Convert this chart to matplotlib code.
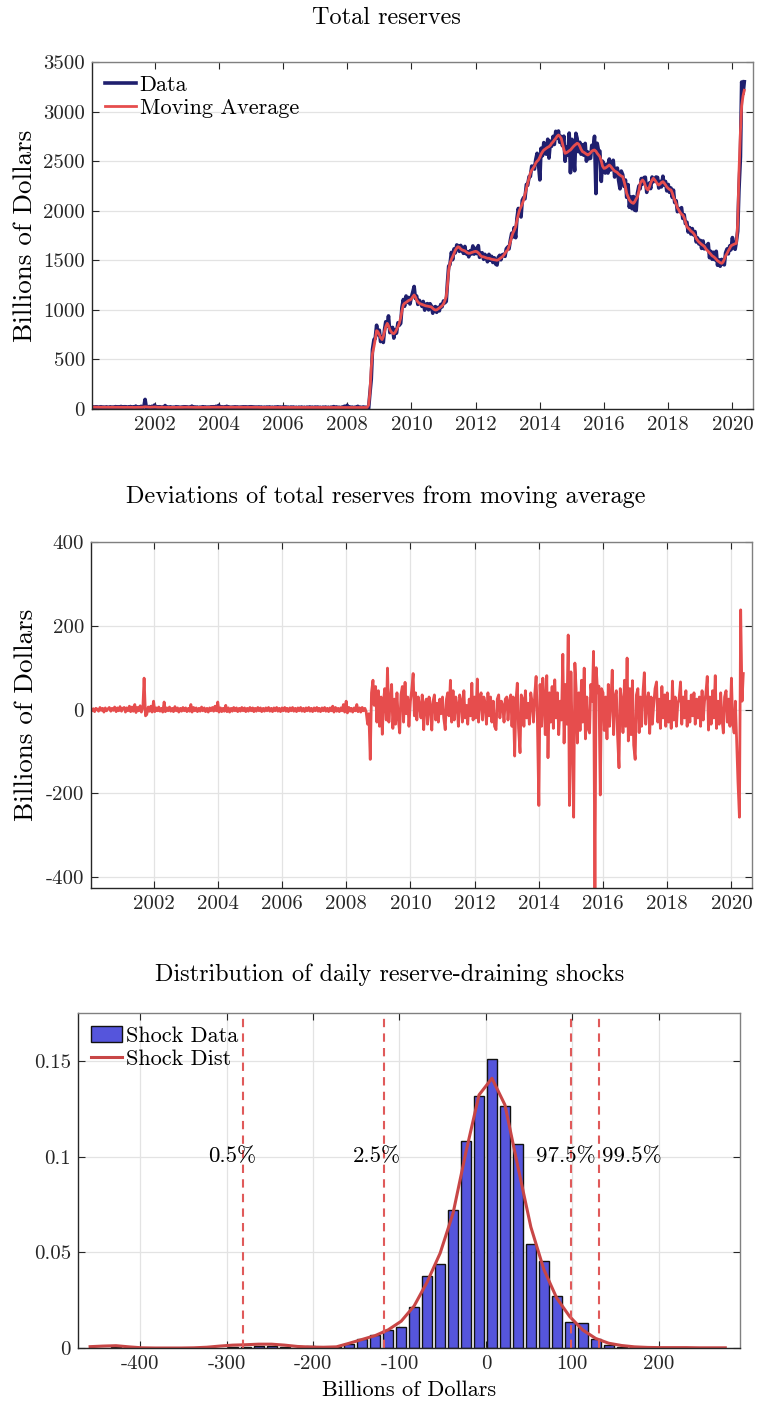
import numpy as np
import pandas as pd
import matplotlib
matplotlib.use('Agg')
import matplotlib.pyplot as plt
import matplotlib.dates as mdates

plt.rcParams['font.family'] = 'serif'
plt.rcParams['font.serif'] = ['cmr10']
plt.rcParams['mathtext.fontset'] = 'cm'
plt.rcParams['axes.unicode_minus'] = False

# ---- time grid: 1st and 15th of each month
dates = pd.date_range('2000-01-01', '2020-05-15', freq='SMS')

# moving average of total reserves (billions)
ma_pre = [20, 20, 19, 19, 19, 19, 18, 18, 18, 18, 17, 17, 18, 18, 17, 17, 17, 17, 18, 18, 18, 18, 19, 19,
          19, 19, 18, 18, 17, 17, 17, 17, 16, 16, 17, 17, 17, 17, 18, 18, 20, 22, 21, 20, 19, 18, 19, 19,
          20, 20, 18, 18, 17, 17, 17, 17, 17, 17, 16, 16, 16, 16, 16, 16, 16, 16, 17, 17, 17, 17, 18, 18,
          18, 18, 17, 17, 17, 17, 16, 16, 16, 16, 16, 16, 17, 17, 17, 17, 17, 17, 18, 18, 18, 18, 19, 19,
          19, 19, 18, 18, 18, 18, 17, 17, 17, 17, 17, 17, 17, 17, 17, 17, 17, 17, 17, 17, 18, 18, 18, 18,
          18, 18, 17, 17, 17, 17, 16, 16, 16, 16, 16, 16, 16, 16, 16, 16, 16, 16, 16, 16, 17, 17, 17, 17,
          17, 17, 16, 16, 16, 16, 16, 16, 15, 15, 15, 15, 15, 15, 15, 15, 15, 15, 15, 15, 16, 16, 16, 16,
          16, 16, 15, 15, 15, 15, 15, 15, 15, 15, 15, 15, 15, 15, 16, 16, 16, 16, 15, 15, 15, 15, 16, 16,
          17, 17, 16, 16, 16, 16, 15, 15, 15, 15, 15, 15, 16, 16]
ma_post = [15, 15, 40, 160, 420, 560, 630, 700, 790, 780,
           750, 720, 700, 730, 780, 830, 864, 840, 800, 780, 763, 760,
           775, 800, 830, 864, 920, 990, 1050, 1066, 1075, 1085, 1095, 1099,
           1110, 1130, 1150, 1130, 1100, 1080, 1066, 1060, 1055, 1050, 1045, 1040,
           1038, 1035, 1032, 1030, 1015, 1005, 998, 1000, 1010, 1020, 1030, 1040,
           1060, 1090, 1133, 1250, 1402, 1470, 1510, 1536, 1570, 1600, 1625, 1637,
           1630, 1615, 1604, 1600, 1595, 1585, 1575, 1570, 1572, 1578, 1582, 1587,
           1590, 1587, 1575, 1560, 1545, 1536, 1535, 1530, 1525, 1520, 1520, 1515,
           1510, 1508, 1505, 1503, 1500, 1505, 1515, 1525, 1536, 1550, 1570, 1590,
           1604, 1640, 1690, 1738, 1775, 1800, 1839, 1900, 1960, 2007, 2040, 2070,
           2108, 2160, 2220, 2276, 2330, 2380, 2410, 2427, 2450, 2480, 2500, 2511,
           2540, 2570, 2595, 2612, 2620, 2630, 2640, 2646, 2660, 2680, 2695, 2713,
           2730, 2750, 2764, 2750, 2730, 2680, 2620, 2579, 2585, 2595, 2605, 2612,
           2630, 2645, 2660, 2670, 2680, 2675, 2650, 2620, 2596, 2590, 2580, 2570,
           2562, 2570, 2585, 2600, 2610, 2612, 2600, 2580, 2560, 2545, 2500, 2450,
           2427, 2430, 2440, 2450, 2461, 2450, 2430, 2415, 2400, 2394, 2385, 2370,
           2360, 2350, 2343, 2300, 2240, 2175, 2140, 2110, 2090, 2080, 2074, 2090,
           2120, 2141, 2200, 2276, 2295, 2310, 2290, 2250, 2220, 2209, 2240, 2280,
           2310, 2327, 2310, 2290, 2270, 2259, 2270, 2285, 2293, 2280, 2260, 2240,
           2225, 2215, 2209, 2180, 2140, 2108, 2070, 2030, 2007, 1985, 1965, 1957,
           1930, 1890, 1839, 1825, 1810, 1795, 1785, 1772, 1750, 1720, 1700, 1685,
           1671, 1660, 1650, 1640, 1620, 1604, 1590, 1575, 1560, 1545, 1536, 1525,
           1510, 1495, 1485, 1475, 1469, 1480, 1510, 1545, 1570, 1595, 1620, 1645,
           1654, 1660, 1667, 1671, 1873, 2377, 2800, 3060, 3160, 3215]

# deviations of reserves from moving average (billions)
dev_pre = [0, 4, -3, 2, -5, 3, 1, -4, 5, -2, 3, -6, 4, -3, 2, 5, -4, 3, -2, 6, -5, 4, -3, 7,
           -4, 3, 5, -6, 4, -3, 8, -5, 6, -4, 12, -7, 5, -3, 9, -6, 4, 75, -15, -12, 6, -4, 8, -6,
           20, -5, 4, -3, 6, -4, 3, -6, 18, -5, 4, -3, 6, -4, 3, -5, 7, -3, 4, -6, 3, -4, 5, -3,
           4, -5, 3, -4, 12, -6, 5, -3, 4, -5, 3, -4, 6, -3, 4, -5, 3, -6, 4, -3, 5, -4, 8, -3,
           18, -6, 4, -5, 3, -4, 10, -5, 4, -6, 3, -4, 5, -3, 4, -5, 3, -4, 5, -3, 4, -5, 3, -4,
           5, -3, 4, -5, 3, -4, 5, -3, 4, -5, 3, -4, 4, -3, 5, -4, 3, -5, 4, -3, 5, -4, 3, -5,
           4, -3, 5, -4, 3, -5, 4, -3, 5, -4, 3, -5, 4, -3, 5, -4, 3, -5, 4, -3, 5, -4, 3, -5,
           4, -3, 5, -4, 3, -5, 4, -3, 5, -4, 3, -5, 4, -3, 8, -6, 5, -4, 3, -5, 4, -3, 12, -6,
           20, -8, 5, -4, 3, -6, 4, -3, 12, -5, 4, -6, 5, -3]
dev_post = [3, -5, -35, -10, -119, 40, 70, 10, 55, -30,
            45, -40, 30, -59, 20, 50, -25, 99, -30, 15, 60, -45,
            25, -35, 40, -20, -56, 35, 55, -30, 65, -10, 30, -40,
            20, 45, 86, -15, 40, -25, 30, 10, -20, 35, -48, 15,
            25, -35, 30, 10, -49, 20, 35, -25, 15, -30, 25, -10,
            30, -20, -48, 25, 40, -15, 70, -30, 45, -25, 30, 10,
            -40, 35, 20, -30, 45, -20, 10, -35, 25, -15, 63, -25,
            30, -20, 73, -30, 25, 40, -25, 30, 15, -35, 40, -15,
            30, -30, 20, -40, -48, 25, 35, -20, 20, 10, -30, 25,
            30, -25, 20, 35, -40, 30, -111, 20, 63, -45, -103, 35,
            25, -40, 45, -20, 15, -35, 40, 20, -30, 35, 79, -20,
            -229, 60, -40, 75, 30, -60, 81, -115, 40, -30, 55, -45,
            71, -20, 40, -60, 20, -25, 132, -80, 60, -35, 178, -229,
            90, -60, -257, 111, 50, -80, 40, -50, 70, -30, 99, -70,
            30, -45, -56, 60, 20, 139, -427, 100, 40, 56, -204, 50,
            40, -50, 30, -70, 60, -40, 25, 94, -60, 30, 45, -65,
            -139, 50, 20, -55, 70, -40, 123, -75, 50, -60, 69, -85,
            -119, 35, 50, -55, 30, -40, 45, 88, -35, 20, 40, -57,
            30, -35, 15, 50, 66, -30, 25, -45, 55, -20, 35, -40,
            40, -30, 20, -45, 68, -25, 30, -40, 15, 25, 66, -35,
            30, -20, 45, -40, 20, -30, 35, -15, 40, -35, 25, -20,
            30, -40, 45, -25, 20, 35, 79, -49, 30, -35, 45, -20,
            81, -45, 20, -35, 40, -20, -56, 30, 45, -30, 25, -40,
            75, -30, -56, 20, -80, -170, -257, 238, 20, 86]

moving_avg = np.array(ma_pre + ma_post, dtype=float)
deviation = np.array(dev_pre + dev_post, dtype=float)
reserves = moving_avg + deviation

# histogram of daily shocks
bin_centers = [-428, -293, -278, -263, -248, -233, -203, -173, -158, -143,
               -128, -113, -98, -83, -68, -53, -38, -23, -8, 7,
               22, 37, 52, 67, 82, 97, 112, 127, 142, 157,
               172, 217, 262]
bin_freq = [0.0003, 0.0005, 0.0005, 0.0010, 0.0010, 0.0005, 0.0010, 0.0005, 0.0021, 0.0047,
            0.0068, 0.0094, 0.0108, 0.0214, 0.0378, 0.0437, 0.0721, 0.1080, 0.1315, 0.1508,
            0.1266, 0.1064, 0.0542, 0.0453, 0.0272, 0.0136, 0.0129, 0.0045, 0.0014, 0.0005,
            0.0003, 0.0002, 0.0002]

dist_x = [-458, -443, -428, -413, -398, -383, -368, -353, -338, -323,
          -308, -293, -278, -263, -248, -233, -218, -203, -188, -173,
          -158, -143, -128, -113, -98, -83, -68, -53, -38, -23,
          -8, 7, 22, 37, 52, 67, 82, 97, 112, 127,
          142, 157, 172, 187, 202, 217, 232, 247, 262, 277]
dist_y = [0.0007, 0.0010, 0.0012, 0.0006, 0.0001, 0.0000, 0.0000, 0.0000, 0.0001, 0.0004,
          0.0010, 0.0015, 0.0017, 0.0020, 0.0020, 0.0015, 0.0008, 0.0005, 0.0004, 0.0006,
          0.0025, 0.0045, 0.0065, 0.0095, 0.0140, 0.0220, 0.0345, 0.0495, 0.0704, 0.1026,
          0.1322, 0.1409, 0.1270, 0.0947, 0.0632, 0.0411, 0.0260, 0.0164, 0.0094, 0.0050,
          0.0025, 0.0013, 0.0006, 0.0003, 0.0002, 0.0002, 0.0002, 0.0001, 0.0001, 0.0001]

pct_values = [-281, -118, 99, 131]
pct_labels = ['0.5%', '2.5%', '97.5%', '99.5%']

navy = '#1f1f6e'
red = '#e64d4d'


def style(ax):
    ax.tick_params(direction='in', length=5, width=0.8, top=True, right=True,
                   labelsize=15, pad=5, colors='#262626')
    for side, s in ax.spines.items():
        s.set_linewidth(1.0)
        s.set_color('#262626' if side in ('left', 'bottom') else '#808080')
    ax.set_axisbelow(True)


W, H = 758, 1403
fig = plt.figure(figsize=(W / 100, H / 100), dpi=100)

def box(l, t, r, b):
    return [l / W, 1 - b / H, (r - l) / W, (b - t) / H]

xlo, xhi = pd.Timestamp('2000-01-20'), pd.Timestamp('2020-08-22')

# ---- panel 1
ax1 = fig.add_axes(box(92, 62, 753, 409))
ax1.plot(dates, reserves, color=navy, lw=2.6, label='Data')
ax1.plot(dates, moving_avg, color=red, lw=2.0, label='Moving Average')
ax1.set_xlim(xlo, xhi)
ax1.set_ylim(0, 3500)
ax1.set_yticks(range(0, 3501, 500))
ax1.xaxis.set_major_locator(mdates.YearLocator(2))
ax1.xaxis.set_major_formatter(mdates.DateFormatter('%Y'))
ax1.grid(axis='y', color='#e3e3e3', lw=0.9)
style(ax1)
ax1.legend(loc='upper left', frameon=False, fontsize=16, handlelength=1.4,
           handletextpad=0.15, labelspacing=0.15, borderaxespad=0.3, borderpad=0.3)
fig.text(386 / W, 1 - 18 / H, 'Total reserves', ha='center', va='center', fontsize=17.5)
fig.text(25 / W, 1 - 236 / H, 'Billions of Dollars', ha='center', va='center',
         rotation=90, fontsize=19.5)

# ---- panel 2
ax2 = fig.add_axes(box(91, 542, 752, 888))
ax2.plot(dates, deviation, color=red, lw=2.0)
ax2.set_xlim(xlo, xhi)
ax2.set_ylim(-426, 400)
ax2.set_yticks([-400, -200, 0, 200, 400])
ax2.set_yticklabels(['-400', '-200', '0', '200', '400'])
ax2.xaxis.set_major_locator(mdates.YearLocator(2))
ax2.xaxis.set_major_formatter(mdates.DateFormatter('%Y'))
ax2.grid(True, color='#e3e3e3', lw=0.9)
style(ax2)
fig.text(386 / W, 1 - 497 / H, 'Deviations of total reserves from moving average',
         ha='center', va='center', fontsize=17.5)
fig.text(26 / W, 1 - 715 / H, 'Billions of Dollars', ha='center', va='center',
         rotation=90, fontsize=19.5)

# ---- panel 3
ax3 = fig.add_axes(box(78, 1013, 740, 1348))
bars = ax3.bar(bin_centers, bin_freq, width=11.5, color='#5555dc', edgecolor='#111111',
               linewidth=1.0, label='Shock Data')
curve, = ax3.plot(dist_x, dist_y, color='#c84646', lw=2.2, label='Shock Dist')
text_x = [-294, -126, 92, 169]
for v, lab, tx in zip(pct_values, pct_labels, text_x):
    ax3.axvline(v, color='#e05a5a', lw=1.5, ls=(0, (4, 3)))
    ax3.text(tx, 0.1, lab, ha='center', va='center', fontsize=16.5)
ax3.set_xlim(-472, 294)
ax3.set_ylim(0, 0.175)
ax3.set_xticks([-400, -300, -200, -100, 0, 100, 200])
ax3.set_xticklabels(['-400', '-300', '-200', '-100', '0', '100', '200'])
ax3.set_yticks([0, 0.05, 0.1, 0.15])
ax3.set_yticklabels(['0', '0.05', '0.1', '0.15'])
ax3.grid(True, color='#e3e3e3', lw=0.9)
style(ax3)
ax3.legend([bars, curve], ['Shock Data', 'Shock Dist'], loc='upper left', frameon=False,
           fontsize=16, handlelength=1.4, handletextpad=0.15, labelspacing=0.15,
           borderaxespad=0.3, borderpad=0.3)
fig.text(390 / W, 1 - 975 / H, 'Distribution of daily reserve-draining shocks',
         ha='center', va='center', fontsize=17.5)
fig.text(409 / W, 1 - 1390 / H, 'Billions of Dollars', ha='center', va='center', fontsize=16)

fig.savefig('out.png', dpi=100)
